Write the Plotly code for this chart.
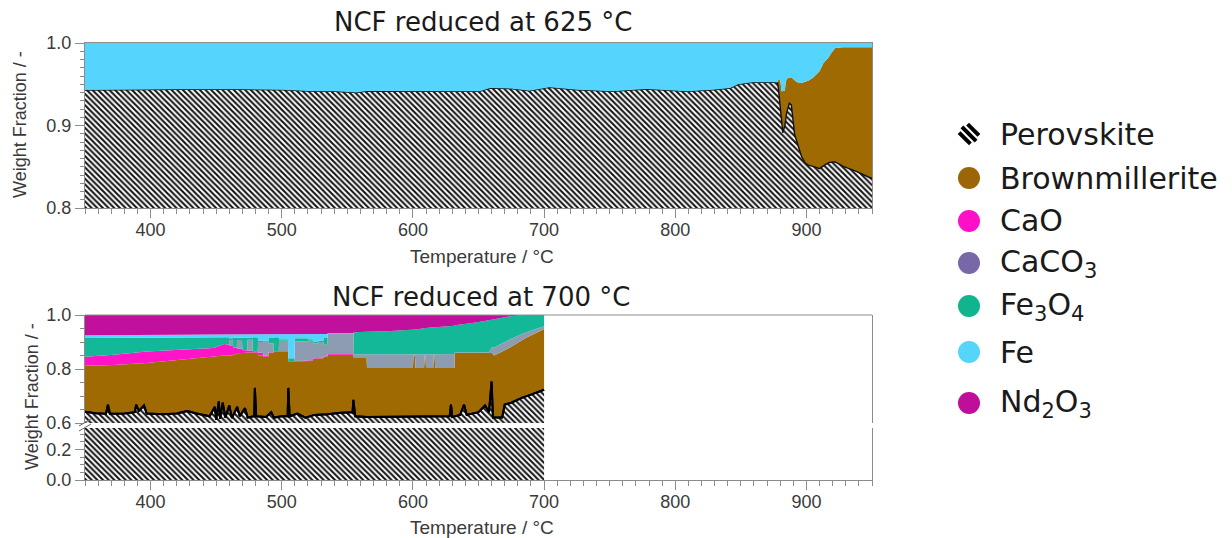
import numpy as np
import plotly.graph_objects as go

W, H = 1232, 538

# ---------------- data: NCF reduced at 625 °C ----------------
T_625 = [350, 370, 400, 420, 443, 470, 500, 520, 540, 557, 565, 600, 630, 651, 659, 676, 689,
         704, 725, 752, 778, 791, 809, 829, 842, 848, 859, 876, 878, 878.6, 880, 881.1, 882,
         883.6, 884, 884.9, 887, 888.5, 891, 892.6, 894, 896.4, 899, 901.4, 905, 910, 913,
         915, 917, 919, 922, 928, 938, 948, 950]
perovskite_625 = [.943, .943, .9435, .944, .9443, .9438, .9432, .9418, .9415, .940, .9418, .942,
                  .942, .9415, .9455, .9446, .9422, .9463, .9434, .9414, .9442, .943, .9414,
                  .9434, .9455, .950, .9523, .9523, .952, .945, .925, .905, .891, .900, .905,
                  .915, .927, .925, .889, .880, .873, .862, .8545, .852, .8505, .8477, .851,
                  .8533, .855, .8555, .8558, .8505, .8444, .837, .836]
brownmillerite_625 = [0] * 28 + [0, .0105, .030, .0364, .0504, .042, .045, .0418, .031, .0334,
                                 .066, .0727, .079, .0895, .0985, .1023, .1075, .118, .1248,
                                 .1257, .1276, .1324, .1382, .1443, .1504, .1578, .159]

# ---------------- data: NCF reduced at 700 °C ----------------
T_700_perov = [350, 358, 366, 367.5, 369, 380, 388, 389, 391, 395, 397, 410, 420, 428, 435,
               445, 449, 450, 452, 453, 455, 457, 460, 462, 466, 468, 472, 474, 479, 479.5,
               480.5, 488, 492, 494, 500, 504.5, 505, 506, 512, 518, 525, 535, 545, 554,
               554.6, 556, 565, 580, 600, 620, 628, 629, 630, 636, 639, 641, 650, 655, 658,
               660, 661, 668, 670, 675, 683, 690, 695, 700]
perovskite_700 = [.642, .636, .634, .668, .634, .635, .640, .668, .645, .665, .635, .632, .635,
                  .644, .635, .625, .66, .612, .68, .615, .675, .62, .665, .618, .66, .625,
                  .655, .62, .625, .73, .625, .622, .64, .62, .625, .625, .73, .625, .635, .62,
                  .63, .632, .638, .64, .686, .625, .622, .623, .622, .624, .625, .668, .622,
                  .63, .668, .63, .64, .665, .64, .754, .62, .62, .668, .675, .693, .705, .715,
                  .723]

T_700 = [350, 372, 397, 422, 448, 456, 459.7, 460, 462.7, 463, 465.7, 466, 469.7, 470, 473.7,
         474, 477.7, 478, 481.7, 482, 485.7, 486, 489.7, 490, 493.7, 494, 497.7, 498, 504.7,
         505, 509.7, 510, 519.7, 520, 523.7, 524, 527.7, 528, 531.7, 532, 534.7, 535, 554.7,
         555, 564.7, 565, 580, 600, 600.5, 601.5, 602, 608.5, 609, 609.5, 610, 615.5, 616,
         616.5, 617, 631.7, 632, 648, 658, 660, 662, 674, 686, 700]
# upper edge of the brownmillerite layer (weight fraction, cumulative)
brownmillerite_top_700 = [.812, .815, .822, .835, .847,
                          .850, .850, .850, .850, .855,
                          .855, .858, .858, .860, .860,
                          .862, .862, .860, .860, .850,
                          .850, .845, .845, .860, .860,
                          .865, .865, .865, .865, .828,
                          .828, .828, .828, .830, .830,
                          .838, .838, .840, .840, .845,
                          .845, .853, .853, .841, .841,
                          .804, .804, .804, .850, .850,
                          .804, .804, .850, .850, .804,
                          .804, .850, .850, .804, .804,
                          .859, .859, .859, .859, .850,
                          .880, .915, .948]
cao_700 = [.033, .038, .043, .037, .031,
           .043, .040, .035, .035, .025,
           .025, .017, .017, .010, .010,
           .006, .006, .006, .006, .010,
           .010, .005, .005, .002, .002,
           .002, .002, .002, .002, .002,
           .002, .002, .002, .002, .002,
           .002, .002, .002, .002, .002,
           .002, .003, .003, 0, 0] + [0] * 23
caco3_700 = [0, 0, 0, 0, 0,
             0, 0, .022, .022, 0,
             0, .032, .032, 0, 0,
             .040, .040, 0, 0, .040,
             .040, .055, .055, .033, .033,
             0, 0, .038, .038, 0,
             0, .072, .072, .073, .073,
             .055, .055, .058, .058, .043,
             .043, .074, .074, .014, .014,
             .049, .049, .049, .003, .003,
             .049, .050, .004, .004, .050,
             .051, .005, .005, .051, .052,
             .003, .003, .003, .021, .030,
             .030, .020, .010]
fe3o4_700 = [.070, .063, .052, .045, .040,
             .025, .028, .007, .007, .037,
             .037, .008, .008, .047, .047,
             .007, .007, .052, .052, .005,
             .005, 0, 0, .020, .020,
             .051, .051, .005, .005, .010,
             .010, .012, .012, .005, .005,
             .005, .005, .005, .005, .025,
             .025, 0, 0, .081, .081,
             .085, .087, .093, .093, .093,
             .093, .097, .097, .097, .098,
             .100, .100, .100, .100, .104,
             .100, .110, .117, .103, .104,
             .085, .065, .042]
fe_700 = [.010, .009, .010, .010, .010,
          .010, .010, .014, .014, .012,
          .012, .014, .014, .012, .012,
          .015, .015, .012, .012, .025,
          .025, .025, .025, .015, .015,
          .012, .012, .020, .020, .088,
          .088, .014, .014, .020, .020,
          .030, .030, .025, .025, .015,
          .015, .002, .002, 0, 0] + [0] * 23

# ---------------- styles ----------------
C_FE = '#55D4FD'
C_BM = '#A06A02'
C_CAO = '#FF14C8'
C_CACO3 = '#8E9CB2'
C_FE3O4 = '#12B898'
C_ND = '#C0109C'
AX = '#8c8c8c'
HATCH = dict(shape='\\', fgcolor='#151515', bgcolor='white', size=4, solidity=0.52)

legend_items = ['Perovskite', 'Brownmillerite', 'CaO', 'CaCO<sub>3</sub>',
                'Fe<sub>3</sub>O<sub>4</sub>', 'Fe', 'Nd<sub>2</sub>O<sub>3</sub>']
legend_colors = [None, '#9C6508', '#FF10C8', '#7868A8', '#10B48E', '#55D5F8', '#BE0E9A']


def px_x(p):
    return p / W


def px_y(p):
    return 1 - p / H


fig = go.Figure()

# ---- top plot (625 °C) ----
p625 = np.array(perovskite_625)
bm625 = p625 + np.array(brownmillerite_625)
fig.add_trace(go.Scatter(x=T_625, y=p625, mode='lines', fill='tozeroy', fillpattern=HATCH,
                         line=dict(color='#111', width=1.4), xaxis='x', yaxis='y',
                         showlegend=False, name='Perovskite'))
fig.add_trace(go.Scatter(x=T_625, y=bm625, mode='lines', fill='tonexty', fillcolor=C_BM,
                         line=dict(width=0), xaxis='x', yaxis='y', showlegend=False,
                         name='Brownmillerite'))
fig.add_trace(go.Scatter(x=T_625, y=[1.0] * len(T_625), mode='lines', fill='tonexty',
                         fillcolor=C_FE, line=dict(width=0), xaxis='x', yaxis='y',
                         showlegend=False, name='Fe'))

# ---- bottom plot (700 °C), upper segment ----
b = np.array(brownmillerite_top_700)
c = b + np.array(cao_700)
k = c + np.array(caco3_700)
m = k + np.array(fe3o4_700)
f = m + np.array(fe_700)
fig.add_trace(go.Scatter(x=T_700_perov, y=perovskite_700, mode='lines', fill='tozeroy',
                         fillpattern=HATCH, line=dict(color='black', width=2),
                         xaxis='x2', yaxis='y2', showlegend=False))
for yy, col in [(b, C_BM), (c, C_CAO), (k, C_CACO3), (m, C_FE3O4), (f, C_FE),
                (np.ones(len(T_700)), C_ND)]:
    fig.add_trace(go.Scatter(x=T_700, y=yy, mode='lines', fill='tonexty', fillcolor=col,
                             line=dict(width=0), xaxis='x2', yaxis='y2', showlegend=False))
# redraw perovskite edge on top
fig.add_trace(go.Scatter(x=T_700_perov, y=perovskite_700, mode='lines',
                         line=dict(color='black', width=2), xaxis='x2', yaxis='y2',
                         showlegend=False))

# ---- bottom plot, lower segment ----
fig.add_trace(go.Scatter(x=T_700_perov, y=perovskite_700, mode='lines', fill='tozeroy',
                         fillpattern=HATCH, line=dict(width=0), xaxis='x2', yaxis='y3',
                         showlegend=False))

XD = [px_x(85), px_x(872)]
tickfont = dict(family='Liberation Sans, Arial', size=18, color='#3a3a3a')
common_x = dict(range=[350, 950], domain=XD, dtick=100, ticks='outside', ticklen=9,
                tickcolor=AX, tickwidth=1, showline=True, linecolor=AX, linewidth=1,
                showgrid=False, zeroline=False, tickfont=tickfont, automargin=False,
                ticklabelstandoff=-4,
                minor=dict(dtick=10, ticks='outside', ticklen=5, tickcolor=AX, showgrid=False))
common_y = dict(ticks='outside', ticklen=9, tickcolor=AX, tickwidth=1, showline=True,
                linecolor=AX, linewidth=1, showgrid=False, zeroline=False, tickfont=tickfont,
                mirror=True, tickformat='.1f', automargin=False)

fig.update_layout(
    template='none',
    width=W, height=H, autosize=False,
    margin=dict(l=0, r=0, t=0, b=0, pad=0, autoexpand=False),
    paper_bgcolor='white', plot_bgcolor='white', showlegend=False,
    xaxis=dict(common_x, anchor='y', mirror=True),
    yaxis=dict(common_y, domain=[px_y(208), px_y(43)], range=[0.8, 1.0], dtick=0.1,
               anchor='x', minor=dict(dtick=0.01, ticks='outside', ticklen=4, tickcolor=AX)),
    xaxis2=dict(common_x, anchor='y3'),
    yaxis2=dict(common_y, domain=[px_y(423), px_y(315)], range=[0.6, 1.0],
                tickvals=[0.6, 0.8, 1.0], anchor='x2',
                minor=dict(dtick=0.05, ticks='outside', ticklen=4, tickcolor=AX)),
    yaxis3=dict(common_y, domain=[px_y(480), px_y(428)], range=[0, 0.34],
                tickvals=[0.0, 0.2], anchor='x2',
                minor=dict(dtick=0.05, ticks='outside', ticklen=4, tickcolor=AX)),
)

shapes = []
# top border of the bottom plot
shapes.append(dict(type='line', xref='paper', yref='paper', x0=XD[0], x1=XD[1],
                   y0=px_y(315), y1=px_y(315), line=dict(color=AX, width=1)))
# axis-break marks
for (xa, ya, xb, yb) in [(79, 426, 91, 419), (79, 431, 91, 424)]:
    shapes.append(dict(type='line', xref='paper', yref='paper', x0=px_x(xa), y0=px_y(ya),
                       x1=px_x(xb), y1=px_y(yb), line=dict(color='#666', width=1)))

annotations = []
title_font = dict(family='DejaVu Sans, Verdana', size=26, color='#1a1a1a')
axis_font = dict(family='Liberation Sans, Arial', size=19, color='#3a3a3a')
annotations.append(dict(text='NCF reduced at 625 °C', x=px_x(483), y=px_y(22), xref='paper',
                        yref='paper', showarrow=False, font=title_font, xanchor='center',
                        yanchor='middle'))
annotations.append(dict(text='NCF reduced at 700 °C', x=px_x(481), y=px_y(297), xref='paper',
                        yref='paper', showarrow=False, font=title_font, xanchor='center',
                        yanchor='middle'))
annotations.append(dict(text='Temperature / °C', x=px_x(482), y=px_y(256), xref='paper',
                        yref='paper', showarrow=False, font=axis_font, xanchor='center',
                        yanchor='middle'))
annotations.append(dict(text='Temperature / °C', x=px_x(482), y=px_y(527), xref='paper',
                        yref='paper', showarrow=False, font=axis_font, xanchor='center',
                        yanchor='middle'))
annotations.append(dict(text='Weight Fraction / -', x=px_x(20), y=px_y(125), xref='paper',
                        yref='paper', showarrow=False, font=dict(axis_font, size=18),
                        textangle=-90, xanchor='center', yanchor='middle'))
annotations.append(dict(text='Weight Fraction / -', x=px_x(32), y=px_y(397), xref='paper',
                        yref='paper', showarrow=False, font=dict(axis_font, size=18),
                        textangle=-90, xanchor='center', yanchor='middle'))

# custom legend
leg_y = [134, 178, 221, 263, 306, 352, 403]
leg_font = dict(family='DejaVu Sans, Verdana', size=30, color='#1a1a1a')
for name, col, yy in zip(legend_items, legend_colors, leg_y):
    if col is None:
        for (xa, ya, xb, yb) in [(-7.07, 7.07, 7.07, -7.07), (-1.41, 9.9, 9.9, -1.41),
                                 (-9.9, 1.41, 1.41, -9.9)]:
            shapes.append(dict(type='line', xref='paper', yref='paper', xsizemode='pixel',
                               ysizemode='pixel', xanchor=px_x(969), yanchor=px_y(yy),
                               x0=xa, y0=ya, x1=xb, y1=yb, line=dict(color='black', width=4)))
    else:
        shapes.append(dict(type='circle', xref='paper', yref='paper', xsizemode='pixel',
                           ysizemode='pixel', xanchor=px_x(969), yanchor=px_y(yy),
                           x0=-11, x1=11, y0=-11, y1=11, fillcolor=col, line=dict(width=0)))
    annotations.append(dict(text=name, x=px_x(998), y=px_y(yy), xref='paper', yref='paper',
                            showarrow=False, font=leg_font, xanchor='left', yanchor='middle'))

fig.update_layout(shapes=shapes, annotations=annotations)
fig.write_html('out.html')
